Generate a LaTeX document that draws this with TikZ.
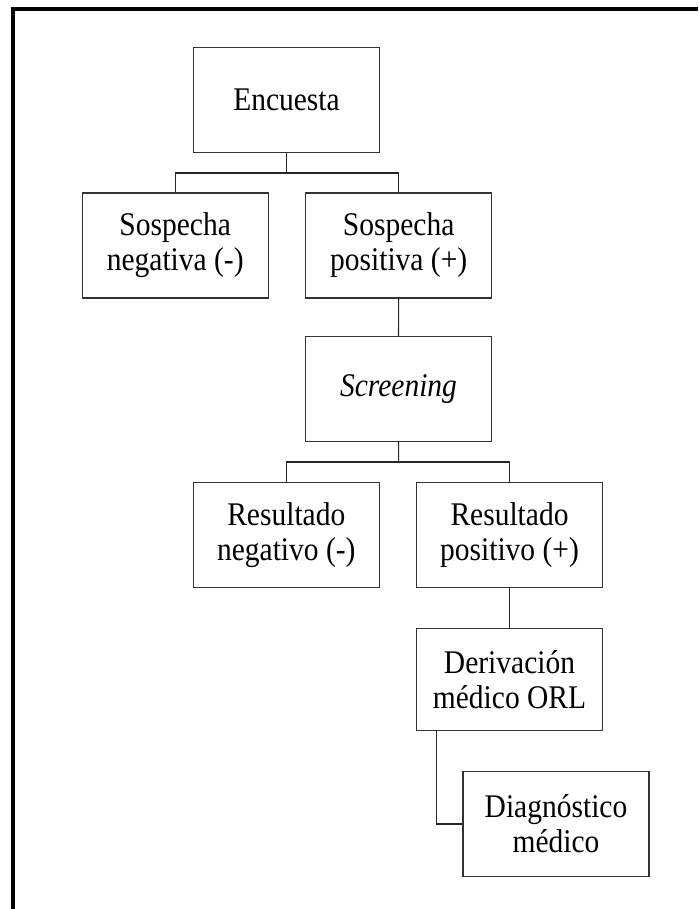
\documentclass[tikz,border=0pt]{standalone}
\usepackage{fontspec}
\usepackage{graphicx}
\setmainfont{Liberation Serif}
\newcommand{\vst}[1]{\scalebox{1}[1.12]{#1}}
\begin{document}
\begin{tikzpicture}[x=1pt,y=1pt,
  box/.style={draw=black!80, line width=1.3pt, minimum width=186pt, minimum height=105pt,
    inner sep=0pt, align=center, font=\fontsize{29.5}{35}\selectfont},
  link/.style={draw=black!85, line width=1.1pt}]
\useasboundingbox (0,0) rectangle (698,-909);
% outer frame (top and left edges only)
\draw[line width=4pt, black] (13,-909) -- (13,-9) -- (698,-9);
% boxes
\node[box] (enc)  at (286.5,-100)   {\vst{Encuesta}};
\node[box] (sneg) at (175.2,-245.5) {\vst{Sospecha}\\\vst{negativa (-)}};
\node[box] (spos) at (398.7,-245.5) {\vst{Sospecha}\\\vst{positiva (+)}};
\node[box] (scr)  at (398.5,-389)   {\vst{\itshape Screening}};
\node[box] (rneg) at (286.3,-535)   {\vst{Resultado}\\\vst{negativo (-)}};
\node[box] (rpos) at (509.5,-535)   {\vst{Resultado}\\\vst{positivo (+)}};
\node[box, minimum height=102pt] (der) at (509.5,-679.5) {\vst{Derivación}\\\vst{médico ORL}};
\node[box] (diag) at (556,-824)     {\vst{Diagnóstico}\\\vst{médico}};
% junctions
\coordinate (j1) at (286.5,-173);
\coordinate (j2) at (398.7,-462);
% connectors
\draw[link, line width=1.5pt] (enc.south) -- (j1);
\draw[link] (sneg.north) |- (j1) -| (spos.north);
\draw[link] (spos.south) -- (scr.north);
\draw[link] (scr.south) -- (j2);
\draw[link] (rneg.north) |- (j2) -| (rpos.north);
\draw[link] (rpos.south) -- (der.north);
\draw[link] ([xshift=21pt]der.south west) |- (diag.west);
\end{tikzpicture}
\end{document}
